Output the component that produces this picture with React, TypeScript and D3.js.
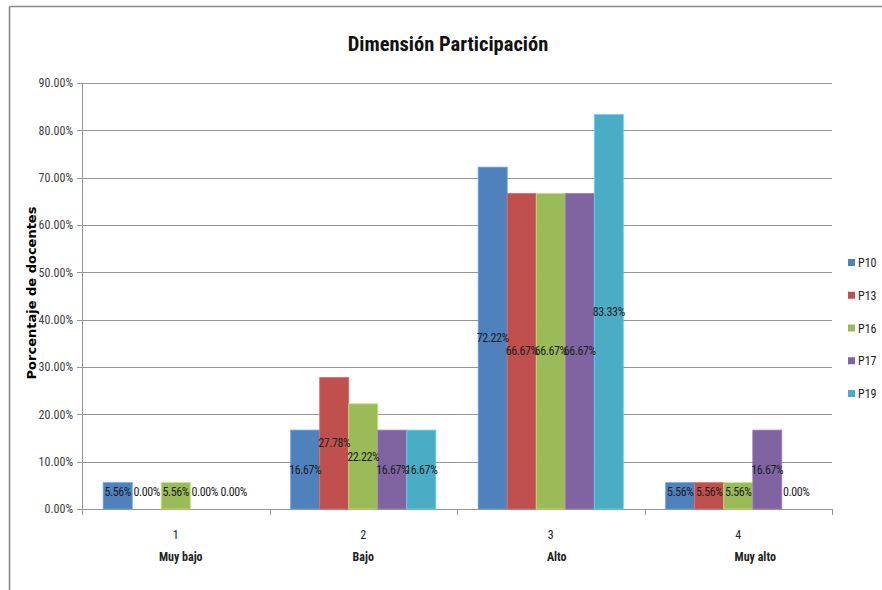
import React from "react";
import * as d3 from "d3";

// Categories (two-level x axis), series and their values (fractions)
const categoryCodes = ["1", "2", "3", "4"];
const categoryNames = ["Muy bajo", "Bajo", "Alto", "Muy alto"];
const seriesNames = ["P10", "P13", "P16", "P17", "P19"];
const seriesColors = ["#4F81BD", "#C0504D", "#9BBB59", "#8064A2", "#4BACC6"];

const p10 = [0.0556, 0.1667, 0.7222, 0.0556];
const p13 = [0.0, 0.2778, 0.6667, 0.0556];
const p16 = [0.0556, 0.2222, 0.6667, 0.0556];
const p17 = [0.0, 0.1667, 0.6667, 0.1667];
const p19 = [0.0, 0.1667, 0.8333, 0.0];

const yTicks = [0, 0.1, 0.2, 0.3, 0.4, 0.5, 0.6, 0.7, 0.8, 0.9];

const seriesValues = [p10, p13, p16, p17, p19];

const W = 882;
const H = 590;
const plot = { left: 82, right: 832, top: 83, bottom: 509 };
const NARROW = "'Liberation Sans Narrow', 'Arial Narrow', 'Roboto Condensed', sans-serif";

export default function App() {
  const y = d3.scaleLinear().domain([0, 0.9]).range([plot.bottom, plot.top]);
  const x0 = d3.scaleBand<number>()
    .domain(d3.range(categoryCodes.length))
    .range([plot.left, plot.right])
    .padding(0);
  const bw = x0.bandwidth();
  const x1 = d3.scaleBand<number>()
    .domain(d3.range(seriesNames.length))
    .range([bw * 0.113, bw * 0.887])
    .padding(0);
  const fmt = (v: number) => (v * 100).toFixed(2) + "%";
  const boundaries = d3.range(categoryCodes.length + 1).map((i) =>
    i < categoryCodes.length ? (x0(i) as number) : plot.right
  );

  return (
    <svg
      width={W}
      height={H}
      style={{ position: "absolute", left: 0, top: 0, background: "#fff" }}
    >
      {/* outer chart frame */}
      <line x1={9.5} y1={6.5} x2={W} y2={6.5} stroke="#8a8a8a" strokeWidth={1.6} />
      <line x1={9.5} y1={6.5} x2={9.5} y2={H} stroke="#8a8a8a" strokeWidth={1.6} />

      {/* title */}
      <text
        x={448}
        y={51}
        textAnchor="middle"
        fontFamily={NARROW}
        fontWeight="bold"
        fontSize={20.5}
        fill="#111"
      >
        Dimensión Participación
      </text>

      {/* horizontal gridlines and y ticks */}
      {yTicks.map((t) => (
        <g key={t}>
          <line
            x1={plot.left - 5}
            x2={plot.right}
            y1={Math.round(y(t)) + 0.5}
            y2={Math.round(y(t)) + 0.5}
            stroke="#969696"
            strokeWidth={1}
          />
          <text
            x={73}
            y={y(t)}
            dy="0.35em"
            textAnchor="end"
            fontFamily={NARROW}
            fontSize={12}
            fill="#404040"
          >
            {(t * 100).toFixed(2) + "%"}
          </text>
        </g>
      ))}

      {/* y axis line */}
      <line
        x1={plot.left + 0.5}
        x2={plot.left + 0.5}
        y1={plot.top}
        y2={plot.bottom}
        stroke="#969696"
      />

      {/* y axis title */}
      <text
        transform={`translate(31, ${293}) rotate(-90)`}
        textAnchor="middle"
        dy="0.35em"
        fontFamily="'DejaVu Sans', Verdana, sans-serif"
        fontWeight="bold"
        fontSize={13}
        fill="#000"
      >
        Porcentaje de docentes
      </text>

      {/* x axis category boundary ticks */}
      {boundaries.map((bx, i) => (
        <line
          key={i}
          x1={Math.round(bx) + 0.5}
          x2={Math.round(bx) + 0.5}
          y1={plot.bottom}
          y2={plot.bottom + 6}
          stroke="#969696"
        />
      ))}

      {/* bars */}
      {categoryCodes.map((_, ci) => (
        <g key={ci} transform={`translate(${x0(ci)},0)`}>
          {seriesValues.map((vals, si) => {
            const v = vals[ci];
            const top = y(v);
            const h = plot.bottom - top;
            return h > 0 ? (
              <rect
                key={si}
                x={x1(si)}
                y={top}
                width={x1.bandwidth()}
                height={h}
                fill={seriesColors[si]}
                stroke={d3.color(seriesColors[si])!.brighter(0.6).formatHex()}
                strokeWidth={0.8}
              />
            ) : null;
          })}
        </g>
      ))}

      {/* data labels, centred on each bar */}
      {categoryCodes.map((_, ci) => (
        <g key={ci} transform={`translate(${x0(ci)},0)`}>
          {seriesValues.map((vals, si) => {
            const v = vals[ci];
            const mid = (y(v) + plot.bottom) / 2;
            const ly = Math.min(mid, plot.bottom - 17);
            return (
              <text
                key={si}
                x={(x1(si) as number) + x1.bandwidth() / 2}
                y={ly}
                dy="0.35em"
                textAnchor="middle"
                fontFamily={NARROW}
                fontSize={12}
                letterSpacing={-0.4}
                fill="#1e1e1e"
              >
                {fmt(v)}
              </text>
            );
          })}
        </g>
      ))}

      {/* x axis labels: code and name */}
      {categoryCodes.map((c, ci) => {
        const cx = (x0(ci) as number) + bw / 2;
        return (
          <g key={c}>
            <text
              x={cx}
              y={539}
              textAnchor="middle"
              fontFamily={NARROW}
              fontSize={12}
              fill="#222"
            >
              {c}
            </text>
            <text
              x={cx + (ci === 0 ? 5 : ci === 2 ? 6 : ci === 3 ? 17 : 0)}
              y={561}
              textAnchor="middle"
              fontFamily={NARROW}
              fontWeight="bold"
              fontSize={12}
              fill="#222"
            >
              {categoryNames[ci]}
            </text>
          </g>
        );
      })}

      {/* legend */}
      {seriesNames.map((s, i) => {
        const ly = 263 + i * 32.75;
        return (
          <g key={s}>
            <rect x={848} y={ly - 4} width={7} height={7} fill={seriesColors[i]} />
            <text
              x={858}
              y={ly}
              dy="0.35em"
              fontFamily={NARROW}
              fontSize={12}
              fill="#222"
            >
              {s}
            </text>
          </g>
        );
      })}
    </svg>
  );
}
